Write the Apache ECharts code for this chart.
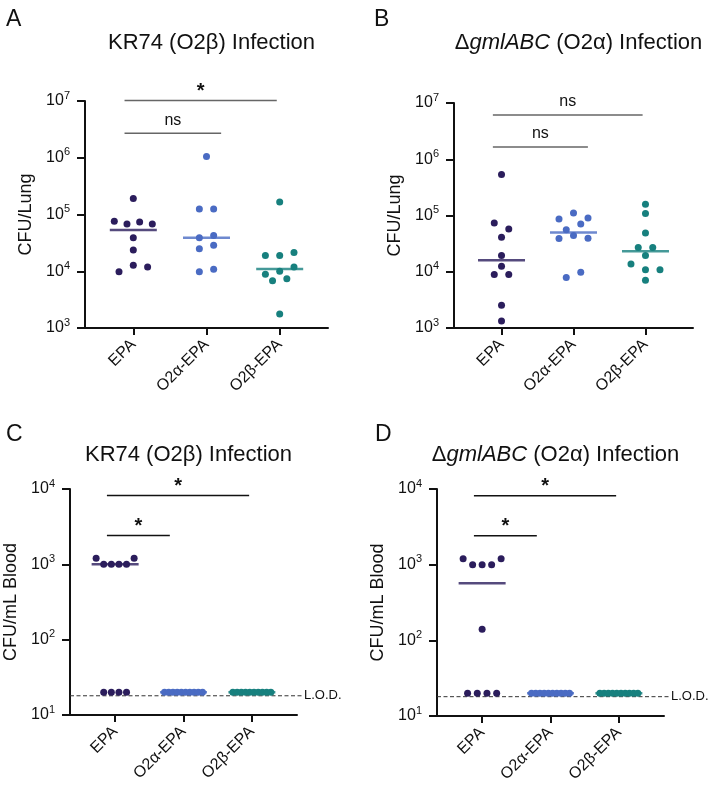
<!DOCTYPE html>
<html>
<head>
<meta charset="utf-8">
<script src="https://cdn.jsdelivr.net/npm/echarts@6/dist/echarts.min.js"></script>
<style>
  html, body { margin: 0; background: #fff; }
  #chart { width: 710px; height: 789px; }
</style>
</head>
<body>
<div id="chart"></div>
<script>
// groups on every panel
var categories = ['EPA', 'O2α-EPA', 'O2β-EPA'];
var groupColors = ['#2b1d5c', '#4a6bc3', '#17807e'];

// A - lung CFU, KR74 (O2b) infection
var lungKR74_EPA = [76000, 68000, 74000, 68000, 192000, 39000, 23600, 9800, 12700, 11900];
var lungKR74_O2a = [1050000, 125000, 125000, 39000, 42700, 24900, 28800, 9800, 10800];
var lungKR74_O2b = [166000, 19000, 19000, 21400, 8850, 10000, 11900, 6800, 7400, 1770];

// B - lung CFU, gmlABC (O2a) infection
var lungGml_EPA = [533000, 73600, 57500, 41000, 19400, 12500, 8900, 8900, 2530, 1330];
var lungGml_O2a = [87000, 111000, 90000, 56000, 70600, 39000, 43900, 39400, 7900, 9800];
var lungGml_O2b = [158000, 108000, 48900, 26900, 26900, 19400, 13700, 10900, 10900, 7050];

// C - blood CFU, KR74 (O2b) infection
var bloodKR74_EPA = [1200, 1000, 1000, 1000, 1000, 1200, 20, 20, 20, 20];
var bloodKR74_O2a = [20, 20, 20, 20, 20, 20, 20, 20, 20, 20];
var bloodKR74_O2b = [20, 20, 20, 20, 20, 20, 20, 20, 20, 20];

// D - blood CFU, gmlABC (O2a) infection
var bloodGml_EPA = [1200, 1000, 1000, 1000, 1200, 140, 20, 20, 20, 20];
var bloodGml_O2a = [20, 20, 20, 20, 20, 20, 20, 20, 20, 20];
var bloodGml_O2b = [20, 20, 20, 20, 20, 20, 20, 20, 20, 20];

var limitOfDetection = 18;

// significance comparisons (group a vs group b)
var sigLungKR74 = [{ a: 0, b: 2, label: '*' }, { a: 0, b: 1, label: 'ns' }];
var sigLungGml = [{ a: 0, b: 2, label: 'ns' }, { a: 0, b: 1, label: 'ns' }];
var sigBloodKR74 = [{ a: 0, b: 2, label: '*' }, { a: 0, b: 1, label: '*' }];
var sigBloodGml = [{ a: 0, b: 2, label: '*' }, { a: 0, b: 1, label: '*' }];

var FONT = 'Liberation Sans, Arial, sans-serif';
var INK = '#111';

var titleKR74 = 'KR74 (O2β) Infection';
var titleGml = '{n|Δ}{i|gmlABC}{n| (O2α) Infection}';

var panels = [
  { letter: 'A', title: titleKR74, yName: 'CFU/Lung', groups: [lungKR74_EPA, lungKR74_O2a, lungKR74_O2b],
    min: 1e3, max: 1e7, sig: sigLungKR74, sigY: [1.02e7, 2.7e6], lowEnd: 0.2, sigColor: '#666', lod: false,
    grid: { left: 85, top: 101, width: 243, height: 227 }, letterPos: [1, 3], spacing: 14.3 },
  { letter: 'B', title: titleGml, yName: 'CFU/Lung', groups: [lungGml_EPA, lungGml_O2a, lungGml_O2b],
    min: 1e3, max: 1e7, sig: sigLungGml, sigY: [6.1e6, 1.65e6], lowEnd: 0.2, sigColor: '#666', lod: false,
    grid: { left: 454, top: 103, width: 239, height: 225 }, letterPos: [369, 3], spacing: 14.5 },
  { letter: 'C', title: titleKR74, yName: 'CFU/mL Blood', groups: [bloodKR74_EPA, bloodKR74_O2a, bloodKR74_O2b],
    min: 10, max: 1e4, sig: sigBloodKR74, sigY: [8170, 2410], lowEnd: -0.2, sigColor: INK, lod: true,
    grid: { left: 70, top: 489, width: 227, height: 226 }, letterPos: [1, 418], spacing: 7.6 },
  { letter: 'D', title: titleGml, yName: 'CFU/mL Blood', groups: [bloodGml_EPA, bloodGml_O2a, bloodGml_O2b],
    min: 10, max: 1e4, sig: sigBloodGml, sigY: [8170, 2410], lowEnd: -0.2, sigColor: INK, lod: true,
    grid: { left: 437, top: 489, width: 227, height: 227 }, letterPos: [370, 418], spacing: 9.7 }
];

var X_MIN = -0.66, X_MAX = 2.66;

function median(arr) {
  var s = arr.slice().sort(function (a, b) { return a - b; });
  var n = s.length;
  return n % 2 ? s[(n - 1) / 2] : (s[n / 2 - 1] + s[n / 2]) / 2;
}

var chart = echarts.init(document.getElementById('chart'));

var option = {
  backgroundColor: '#fff',
  animation: false,
  textStyle: { fontFamily: FONT },
  title: [],
  grid: [],
  xAxis: [],
  yAxis: [],
  series: []
};

panels.forEach(function (p, k) {
  option.title.push({
    text: p.title,
    left: p.grid.left + p.grid.width / 2,
    top: p.letter === 'A' || p.letter === 'B' ? 27 : 439,
    textAlign: 'center',
    textStyle: {
      fontFamily: FONT, fontSize: 22, fontWeight: 'normal', color: INK,
      rich: {
        n: { fontFamily: FONT, fontSize: 22, color: INK },
        i: { fontFamily: FONT, fontSize: 22, color: INK, fontStyle: 'italic' }
      }
    }
  });
  option.title.push({
    text: p.letter,
    left: p.letterPos[0],
    top: p.letterPos[1],
    textStyle: { fontFamily: FONT, fontSize: 23, fontWeight: 'normal', color: INK }
  });
  option.grid.push(p.grid);
  option.xAxis.push({
    type: 'value', gridIndex: k, min: X_MIN, max: X_MAX,
    splitLine: { show: false },
    axisLine: { show: true, onZero: false, lineStyle: { color: INK, width: 2 } },
    axisTick: { show: true, customValues: [0, 1, 2], length: 7, lineStyle: { color: INK, width: 2 } },
    axisLabel: {
      customValues: [0, 1, 2], rotate: 45, margin: 14, fontSize: 16, color: INK, fontFamily: FONT,
      formatter: function (v) { return categories[Math.round(v)]; }
    }
  });
  option.yAxis.push({
    type: 'log', logBase: 10, gridIndex: k, min: p.min, max: p.max,
    name: p.yName, nameLocation: 'middle', nameRotate: 90, nameGap: 50,
    nameTextStyle: { fontFamily: FONT, fontSize: 18, color: INK },
    splitLine: { show: false },
    minorTick: { show: false },
    axisLine: { show: true, onZero: false, lineStyle: { color: INK, width: 2 } },
    axisTick: { show: true, length: 8, lineStyle: { color: INK, width: 2 } },
    axisLabel: {
      margin: 15, color: INK,
      formatter: function (v) {
        return '{b|10}{s|' + Math.round(Math.log(v) / Math.LN10) + '}';
      },
      rich: {
        b: { fontFamily: FONT, fontSize: 16, color: INK, lineHeight: 22 },
        s: { fontFamily: FONT, fontSize: 11, color: INK, verticalAlign: 'top', lineHeight: 22 }
      }
    }
  });

  // median bars
  p.groups.forEach(function (vals, g) {
    option.series.push({
      type: 'scatter', xAxisIndex: k, yAxisIndex: k, silent: true, z: 2,
      symbol: 'rect', symbolSize: [47, 2.5],
      itemStyle: { color: groupColors[g] },
      data: [[g, median(vals)]]
    });
  });
  // points (jitter filled in after layout)
  p.groups.forEach(function (vals, g) {
    option.series.push({
      id: 'pts-' + k + '-' + g,
      type: 'scatter', xAxisIndex: k, yAxisIndex: k, z: 3,
      symbolSize: 7,
      itemStyle: { color: groupColors[g], opacity: 1 },
      data: vals.map(function (v) { return [g, v]; })
    });
  });
  // significance brackets
  option.series.push({
    type: 'custom', xAxisIndex: k, yAxisIndex: k, silent: true, z: 4,
    data: p.sig.map(function (s, i) {
      var x2 = i === 0 ? s.b - 0.04 : s.b + p.lowEnd;
      return [s.a - 0.12, x2, p.sigY[i]];
    }),
    renderItem: function (params, api) {
      var s = p.sig[params.dataIndex];
      var a = api.coord([api.value(0), api.value(2)]);
      var b = api.coord([api.value(1), api.value(2)]);
      var star = s.label === '*';
      return {
        type: 'group',
        children: [
          { type: 'line', shape: { x1: a[0], y1: a[1], x2: b[0], y2: b[1] },
            style: { stroke: p.sigColor, lineWidth: 1.5 } },
          { type: 'text', style: {
              text: s.label, x: (a[0] + b[0]) / 2, y: a[1] - (star ? -1 : 5),
              align: 'center', verticalAlign: 'bottom', fill: INK,
              font: (star ? 'bold 20px ' : '16px ') + FONT } }
        ]
      };
    }
  });
  // limit of detection
  if (p.lod) {
    option.series.push({
      type: 'custom', xAxisIndex: k, yAxisIndex: k, silent: true, z: 1,
      data: [[X_MIN, limitOfDetection]],
      renderItem: function (params, api) {
        var a = api.coord([X_MIN, api.value(1)]);
        var b = api.coord([X_MAX, api.value(1)]);
        return {
          type: 'group',
          children: [
            { type: 'line', shape: { x1: a[0], y1: a[1], x2: b[0] + 5, y2: b[1] },
              style: { stroke: '#333', lineWidth: 1, lineDash: [4, 2.5] } },
            { type: 'text', style: { text: 'L.O.D.', x: b[0] + 7, y: b[1], align: 'left',
              verticalAlign: 'middle', fill: INK, font: '13px ' + FONT } }
          ]
        };
      }
    });
  }
});

chart.setOption(option);

// column-scatter layout: points closer than ~one dot vertically share a row
function rowOffsets(vals, k, g, spacing) {
  var px = vals.map(function (v) {
    return chart.convertToPixel({ xAxisIndex: k, yAxisIndex: k }, [g, v])[1];
  });
  var order = vals.map(function (v, i) { return i; }).sort(function (a, b) { return px[a] - px[b]; });
  var off = [];
  var row = [];
  function flush() {
    row.sort(function (a, b) { return a - b; });
    var n = row.length;
    var step = n > 1 ? Math.min(spacing, 38 / (n - 1)) : 0;
    row.forEach(function (i, j) { off[i] = (j - (n - 1) / 2) * step; });
    row = [];
  }
  order.forEach(function (i) {
    if (row.length && px[i] - px[row[0]] > 7.5) flush();
    row.push(i);
  });
  flush();
  return off;
}

var update = [];
panels.forEach(function (p, k) {
  p.groups.forEach(function (vals, g) {
    var off = rowOffsets(vals, k, g, p.spacing);
    update.push({
      id: 'pts-' + k + '-' + g,
      data: vals.map(function (v, i) { return { value: [g, v], symbolOffset: [off[i], 0] }; })
    });
  });
});
chart.setOption({ series: update });
</script>
</body>
</html>
